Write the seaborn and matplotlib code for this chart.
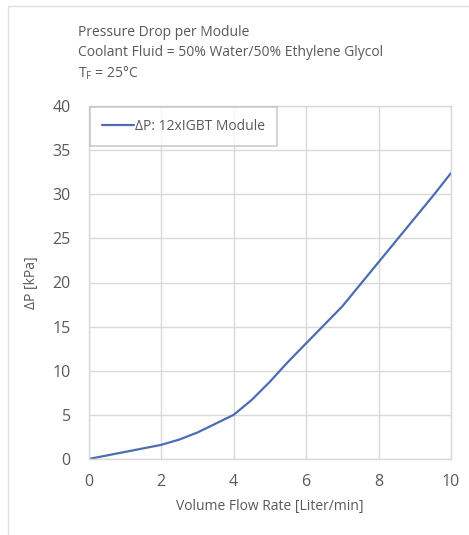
import matplotlib
matplotlib.use("Agg")
import matplotlib.pyplot as plt
import matplotlib.patches as patches
import seaborn as sns
import pandas as pd

# Data
flow = [0, 0.5, 1, 1.5, 2, 2.5, 3, 3.5, 4, 4.5, 5, 5.5, 6, 6.5, 7, 7.5, 8, 8.5, 9, 9.5, 10]
dp = [0, 0.4, 0.8, 1.2, 1.6, 2.2, 3.0, 4.0, 5.0, 6.7, 8.75, 11.0, 13.1, 15.2, 17.3,
      19.8, 22.3, 24.8, 27.3, 29.8, 32.4]
series_label = "ΔP: 12xIGBT Module"
xticks = [0, 2, 4, 6, 8, 10]
yticks = [0, 5, 10, 15, 20, 25, 30, 35, 40]
title_lines = ["Pressure Drop per Module",
               "Coolant Fluid = 50% Water/50% Ethylene Glycol",
               r"T$_\mathrm{F}$ = 25°C"]

sns.set_theme(style="whitegrid")
plt.rcParams['font.family'] = ['Open Sans', 'DejaVu Sans']
plt.rcParams['mathtext.fontset'] = 'custom'
plt.rcParams['mathtext.rm'] = 'Open Sans'
plt.rcParams['mathtext.it'] = 'Open Sans:italic'

TXT = '#595959'
GRID = '#d9d9d9'
LINE = '#4a6db3'

fig = plt.figure(figsize=(4.69, 5.35), dpi=100)
fig.patch.set_facecolor('white')
ax = fig.add_axes([88.7/469, 1-459/535, (451-88.7)/469, (459-106)/535])

df = pd.DataFrame({"flow": flow, "dp": dp})
sns.lineplot(data=df, x="flow", y="dp", ax=ax, color=LINE, linewidth=1.6,
             label=series_label)

ax.set_xlim(0, 10)
ax.set_ylim(0, 40)
ax.set_xticks(xticks)
ax.set_yticks(yticks)
ax.grid(True, color=GRID, linewidth=1)
for s in ax.spines.values():
    s.set_color(GRID)
    s.set_linewidth(1)
ax.tick_params(axis='both', length=0, labelsize=11.5, labelcolor=TXT)
ax.tick_params(axis='y', pad=13)
ax.tick_params(axis='x', pad=11)
ax.set_xlabel("Volume Flow Rate [Liter/min]", fontsize=10, color=TXT, labelpad=6)
ax.set_ylabel("ΔP [kPa]", fontsize=10, color=TXT)
ax.yaxis.set_label_coords(-0.138, 0.5)

leg = ax.legend(loc='upper left', fontsize=10, frameon=True, fancybox=False,
                borderaxespad=0.1, handlelength=2.3, handletextpad=0.1,
                borderpad=0.85)
leg.get_frame().set_edgecolor('#bfbfbf')
leg.get_frame().set_linewidth(1.2)
for t in leg.get_texts():
    t.set_color(TXT)

ys = [32, 53, 73]
for line, y in zip(title_lines, ys):
    fig.text(78/469, 1-y/535, line, ha='left', va='center', fontsize=10, color=TXT)

fig.patches.append(patches.Rectangle((8/469, -0.1), 1.2, 1.1-6/535,
                                     transform=fig.transFigure, fill=False,
                                     edgecolor='#e0e0e0', linewidth=1))

fig.savefig("out.png", dpi=100)
